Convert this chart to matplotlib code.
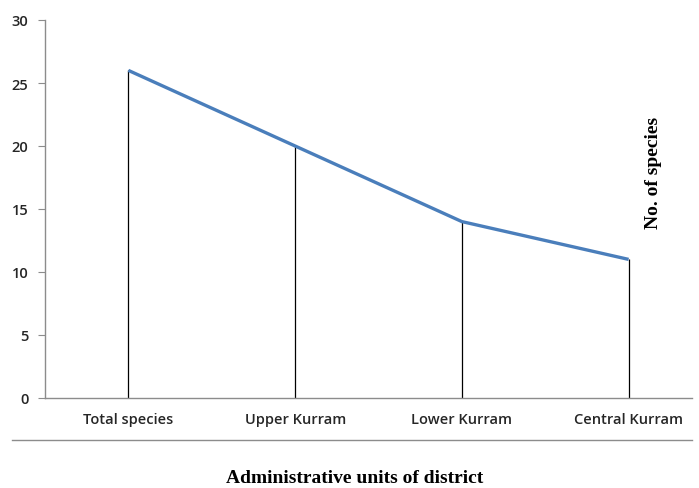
import matplotlib.pyplot as plt
import numpy as np

categories = ["Total species", "Upper Kurram", "Lower Kurram", "Central Kurram"]
species_counts = [26, 20, 14, 11]
y_ticks = [0, 5, 10, 15, 20, 25, 30]

line_color = "#4a7ebb"
axis_color = "#8c8c8c"
label_color = "#262626"

fig = plt.figure(figsize=(6.99, 4.89), dpi=100)
# axes box in pixels: x 45..692, y 21..399 (of 489)
ax = fig.add_axes([45 / 699, 1 - 399 / 489, (692 - 45) / 699, (399 - 21) / 489])

x = np.arange(len(categories))
ax.plot(x, species_counts, color=line_color, linewidth=2.4, solid_capstyle="butt", zorder=3)
ax.vlines(x, 0, species_counts, color="black", linewidth=0.9, zorder=2)

ax.set_xlim(-0.5, 3.38)
ax.set_ylim(0, 30)
ax.set_yticks(y_ticks)
ax.set_xticks(x)
ax.set_xticklabels(categories, fontsize=10.5, family="Open Sans", fontweight="semibold")
for lbl in ax.get_yticklabels():
    lbl.set_family("Open Sans")
    lbl.set_fontweight("semibold")
ax.tick_params(axis="x", length=0, pad=10, labelcolor=label_color)
ax.tick_params(axis="y", length=5, width=0.8, color=axis_color, labelsize=10.5, pad=7, labelcolor=label_color)

for side in ["top", "right"]:
    ax.spines[side].set_visible(False)
for side in ["left", "bottom"]:
    ax.spines[side].set_color(axis_color)
    ax.spines[side].set_linewidth(1.0)

# separator line under the category labels
fig.add_artist(plt.Line2D([12 / 699, 692 / 699], [1 - 441 / 489, 1 - 441 / 489],
                          color=axis_color, linewidth=1.0))

fig.text(355 / 699, 1 - 479 / 489, "Administrative units of district",
         ha="center", va="center", fontsize=14, fontweight="bold", family="Liberation Serif")
fig.text(653 / 699, 1 - 173 / 489, "No. of species", rotation=90,
         ha="center", va="center", fontsize=14, fontweight="bold", family="Liberation Serif")

fig.savefig("out.png", dpi=100)
